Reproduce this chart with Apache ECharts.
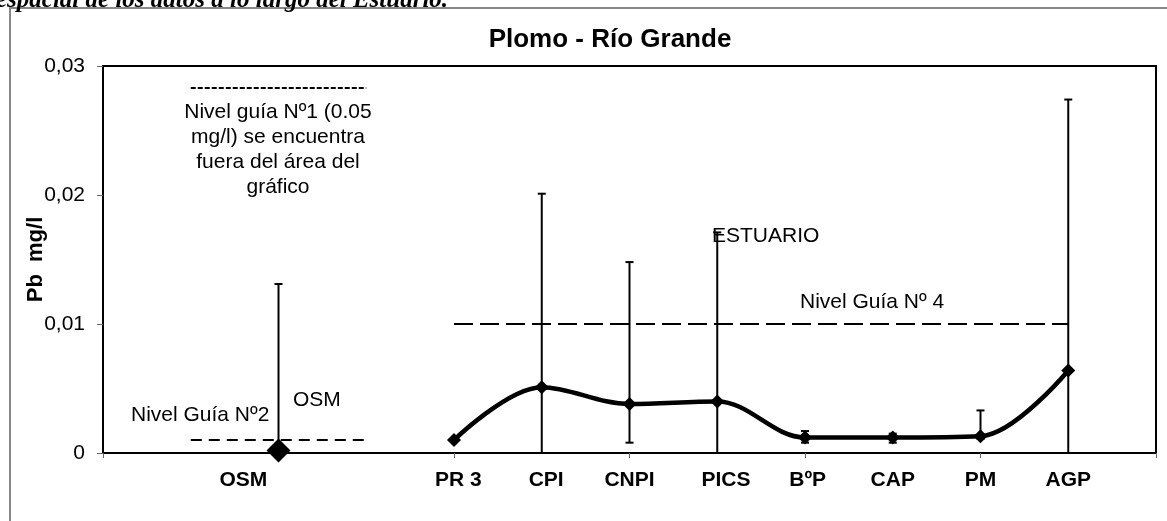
<!DOCTYPE html>
<html>
<head>
<meta charset="utf-8">
<script src="https://cdn.jsdelivr.net/npm/echarts@6/dist/echarts.min.js"></script>
<style>
  html, body { margin: 0; padding: 0; background: #fff; }
  #chart { width: 1167px; height: 521px; }
</style>
</head>
<body>
<div id="chart"></div>
<script>
// estaciones
const stations = ['OSM', 'PR 3', 'CPI', 'CNPI', 'PICS', 'BºP', 'CAP', 'PM', 'AGP'];
const stationX = [2, 4, 5, 6, 7, 8, 9, 10, 11];
const labelX = [1.6, 4.05, 5.05, 6, 7.1, 8.03, 9, 10, 11];
// Pb mg/l (media, max, min)
const meanPb = [0.0002, 0.001, 0.0051, 0.0038, 0.0040, 0.0012, 0.0012, 0.0013, 0.0064];
const highPb = [0.0131, null, 0.0201, 0.0148, 0.0171, 0.0017, 0.0015, 0.0033, 0.0274];
const lowPb = [0, null, 0, 0.0008, 0, 0.0008, 0.0008, 0.0011, 0];
// niveles guía
const guia2 = { value: 0.001, from: 1, to: 3 };
const guia4 = { value: 0.01, from: 4, to: 11 };
const guia1Marker = { value: 0.0283, from: 1, to: 3 };
const xTicks = [0, 2, 4, 6, 8, 10, 12];

const font = 'Arial, "Liberation Sans", sans-serif';

const errData = [];
stationX.forEach((x, i) => {
  if (highPb[i] !== null) errData.push([x, lowPb[i], highPb[i]]);
});

const guideLine = (g, dash) => ({
  type: 'line',
  data: [[g.from, g.value], [g.to, g.value]],
  symbol: 'none',
  silent: true,
  lineStyle: { color: '#000', width: 2, type: dash },
  z: 1,
});

const chart = echarts.init(document.getElementById('chart'));

const option = {
  animation: false,
  grid: {
    left: 103, right: 11, top: 66, bottom: 68,
    show: true, borderColor: '#000', borderWidth: 2,
  },
  xAxis: {
    type: 'value',
    min: 0,
    max: 12,
    splitLine: { show: false },
    axisLine: { lineStyle: { color: '#000', width: 2 } },
    axisTick: { customValues: xTicks, length: 5, lineStyle: { color: '#666' } },
    axisLabel: {
      customValues: labelX,
      formatter: (v) => {
        const i = labelX.findIndex(p => Math.abs(p - v) < 1e-6);
        return i >= 0 ? stations[i] : '';
      },
      margin: 17,
      fontFamily: font,
      fontSize: 21,
      fontWeight: 'bold',
      color: '#000',
    },
  },
  yAxis: {
    type: 'value',
    min: 0,
    max: 0.03,
    interval: 0.01,
    name: 'Pb  mg/l',
    nameLocation: 'middle',
    nameGap: 56,
    nameMoveOverlap: false,
    nameTextStyle: { fontFamily: font, fontSize: 22, fontWeight: 'bold', color: '#000' },
    splitLine: { show: false },
    axisLine: { show: true, lineStyle: { color: '#000', width: 2 } },
    axisTick: { show: true, length: 6, lineStyle: { color: '#666' } },
    axisLabel: {
      formatter: v => (v === 0 ? '0' : v.toFixed(2).replace('.', ',')),
      margin: 18,
      fontFamily: font,
      fontSize: 21,
      color: '#000',
    },
  },
  graphic: [
    { type: 'rect', shape: { x: 10, y: 8, width: 1200, height: 600 },
      style: { fill: 'none', stroke: '#888', lineWidth: 2 }, silent: true },
    { type: 'text', left: -4, top: -12,
      style: { text: 'espacial de los datos a lo largo del Estuario.', font: 'italic bold 25px "Liberation Serif", "DejaVu Serif", serif', fill: '#000' } },
    { type: 'text', x: 610, y: 40,
      style: { text: 'Plomo - Río Grande', font: 'bold 26px ' + font, fill: '#000', align: 'center', verticalAlign: 'middle' } },
    { type: 'text', x: 278, y: 100,
      style: { text: 'Nivel guía Nº1 (0.05\nmg/l) se encuentra\nfuera del área del\ngráfico', font: '21px ' + font, lineHeight: 25, fill: '#000', align: 'center', verticalAlign: 'top' } },
    { type: 'text', x: 131, y: 415,
      style: { text: 'Nivel Guía Nº2', font: '21px ' + font, fill: '#000', verticalAlign: 'middle' } },
    { type: 'text', x: 293, y: 400,
      style: { text: 'OSM', font: '21px ' + font, fill: '#000', verticalAlign: 'middle' } },
    { type: 'text', x: 712, y: 236,
      style: { text: 'ESTUARIO', font: '21px ' + font, fill: '#000', verticalAlign: 'middle' } },
    { type: 'text', x: 800, y: 302,
      style: { text: 'Nivel Guía Nº 4', font: '21px ' + font, fill: '#000', verticalAlign: 'middle' } },
  ],
  series: [
    guideLine(guia2, [11, 7]),
    guideLine(guia4, [19, 7]),
    guideLine(guia1Marker, [5, 2]),
    {
      type: 'custom',
      data: errData,
      silent: true,
      z: 3,
      renderItem: (params, api) => {
        const x = api.value(0);
        const lo = api.coord([x, api.value(1)]);
        const hi = api.coord([x, api.value(2)]);
        const w = 4;
        const st = { stroke: '#000', lineWidth: 2 };
        return {
          type: 'group',
          children: [
            { type: 'line', shape: { x1: lo[0], y1: lo[1], x2: hi[0], y2: hi[1] }, style: st },
            { type: 'line', shape: { x1: hi[0] - w, y1: hi[1], x2: hi[0] + w, y2: hi[1] }, style: st },
            { type: 'line', shape: { x1: lo[0] - w, y1: lo[1], x2: lo[0] + w, y2: lo[1] }, style: st },
          ],
        };
      },
    },
    {
      type: 'line',
      data: stationX.slice(1).map((x, i) => [x, meanPb[i + 1]]),
      smooth: 0.35,
      symbol: 'diamond',
      symbolSize: [14, 14],
      itemStyle: { color: '#000' },
      lineStyle: { color: '#000', width: 4.5 },
      z: 4,
    },
    {
      type: 'scatter',
      data: [[stationX[0], meanPb[0]]],
      symbol: 'diamond',
      symbolSize: [24, 24],
      itemStyle: { color: '#000', opacity: 1 },
      z: 5,
    },
  ],
};

chart.setOption(option);
</script>
</body>
</html>
